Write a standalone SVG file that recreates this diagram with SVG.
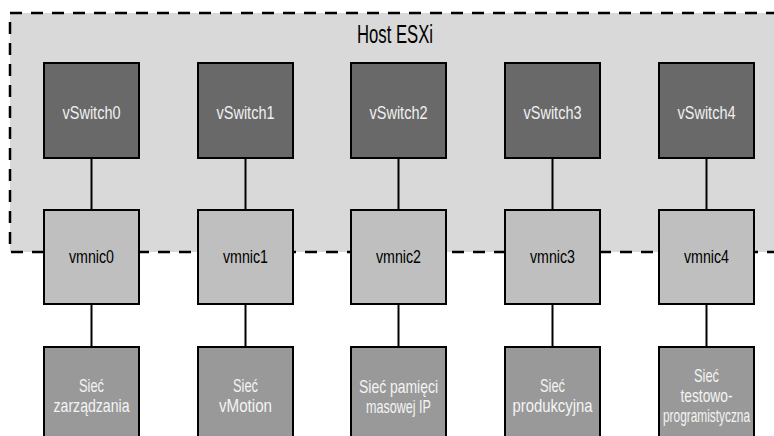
<svg xmlns="http://www.w3.org/2000/svg" width="774" height="436" viewBox="0 0 774 436">
<style>
text{font-family:"Liberation Sans",Arial,sans-serif;font-size:19px;text-anchor:middle}
.sw rect{fill:#696969;stroke:#000;stroke-width:2}
.sw text{fill:#f0f0f0}
.nic rect{fill:#bfbfbf;stroke:#000;stroke-width:2}
.nic text{fill:#000}
.net rect{fill:#999;stroke:#000;stroke-width:2}
.net text{fill:#f4f4f4}
#connectors line{stroke:#000;stroke-width:2}
</style>
<rect width="774" height="436" fill="#fff"/>
<g id="host">
<rect x="10" y="13" width="790" height="239" fill="#d9d9d9" stroke="#000" stroke-width="2.5" stroke-dasharray="12 9"/>
<text x="395" y="43" style="font-size:25px" fill="#000" textLength="76" lengthAdjust="spacingAndGlyphs">Host ESXi</text>
</g>
<g id="connectors">
<line x1="91.5" y1="158" x2="91.5" y2="210"/><line x1="91.5" y1="304" x2="91.5" y2="347"/>
<line x1="245.5" y1="158" x2="245.5" y2="210"/><line x1="245.5" y1="304" x2="245.5" y2="347"/>
<line x1="398.5" y1="158" x2="398.5" y2="210"/><line x1="398.5" y1="304" x2="398.5" y2="347"/>
<line x1="552.5" y1="158" x2="552.5" y2="210"/><line x1="552.5" y1="304" x2="552.5" y2="347"/>
<line x1="706.5" y1="158" x2="706.5" y2="210"/><line x1="706.5" y1="304" x2="706.5" y2="347"/>
</g>
<g id="vSwitch0" class="sw"><rect x="44" y="63" width="95" height="95"/><text x="91.5" y="119" textLength="58" lengthAdjust="spacingAndGlyphs">vSwitch0</text></g>
<g id="vSwitch1" class="sw"><rect x="198" y="63" width="95" height="95"/><text x="245.5" y="119" textLength="58" lengthAdjust="spacingAndGlyphs">vSwitch1</text></g>
<g id="vSwitch2" class="sw"><rect x="351" y="63" width="95" height="95"/><text x="398.5" y="119" textLength="58" lengthAdjust="spacingAndGlyphs">vSwitch2</text></g>
<g id="vSwitch3" class="sw"><rect x="505" y="63" width="95" height="95"/><text x="552.5" y="119" textLength="58" lengthAdjust="spacingAndGlyphs">vSwitch3</text></g>
<g id="vSwitch4" class="sw"><rect x="659" y="63" width="95" height="95"/><text x="706.5" y="119" textLength="58" lengthAdjust="spacingAndGlyphs">vSwitch4</text></g>
<g id="vmnic0" class="nic"><rect x="44" y="210" width="95" height="94"/><text x="91.5" y="263" textLength="45" lengthAdjust="spacingAndGlyphs">vmnic0</text></g>
<g id="vmnic1" class="nic"><rect x="198" y="210" width="95" height="94"/><text x="245.5" y="263" textLength="45" lengthAdjust="spacingAndGlyphs">vmnic1</text></g>
<g id="vmnic2" class="nic"><rect x="351" y="210" width="95" height="94"/><text x="398.5" y="263" textLength="45" lengthAdjust="spacingAndGlyphs">vmnic2</text></g>
<g id="vmnic3" class="nic"><rect x="505" y="210" width="95" height="94"/><text x="552.5" y="263" textLength="45" lengthAdjust="spacingAndGlyphs">vmnic3</text></g>
<g id="vmnic4" class="nic"><rect x="659" y="210" width="95" height="94"/><text x="706.5" y="263" textLength="45" lengthAdjust="spacingAndGlyphs">vmnic4</text></g>
<g id="net0" class="net"><rect x="44" y="347" width="95" height="100"/><text x="91.5" y="392" textLength="25" lengthAdjust="spacingAndGlyphs">Sieć</text><text x="91.5" y="412" textLength="76" lengthAdjust="spacingAndGlyphs">zarządzania</text></g>
<g id="net1" class="net"><rect x="198" y="347" width="95" height="100"/><text x="245.5" y="392" textLength="25" lengthAdjust="spacingAndGlyphs">Sieć</text><text x="245.5" y="412" textLength="53" lengthAdjust="spacingAndGlyphs">vMotion</text></g>
<g id="net2" class="net"><rect x="351" y="347" width="95" height="100"/><text x="398.5" y="393" textLength="79" lengthAdjust="spacingAndGlyphs">Sieć pamięci</text><text x="398.5" y="413" textLength="65" lengthAdjust="spacingAndGlyphs">masowej IP</text></g>
<g id="net3" class="net"><rect x="505" y="347" width="95" height="100"/><text x="552.5" y="392" textLength="25" lengthAdjust="spacingAndGlyphs">Sieć</text><text x="552.5" y="412" textLength="80" lengthAdjust="spacingAndGlyphs">produkcyjna</text></g>
<g id="net4" class="net"><rect x="659" y="347" width="95" height="100"/><text x="706.5" y="382" textLength="25" lengthAdjust="spacingAndGlyphs">Sieć</text><text x="706.5" y="402" textLength="52" lengthAdjust="spacingAndGlyphs">testowo-</text><text x="706.5" y="422" textLength="87" lengthAdjust="spacingAndGlyphs">programistyczna</text></g>
</svg>
